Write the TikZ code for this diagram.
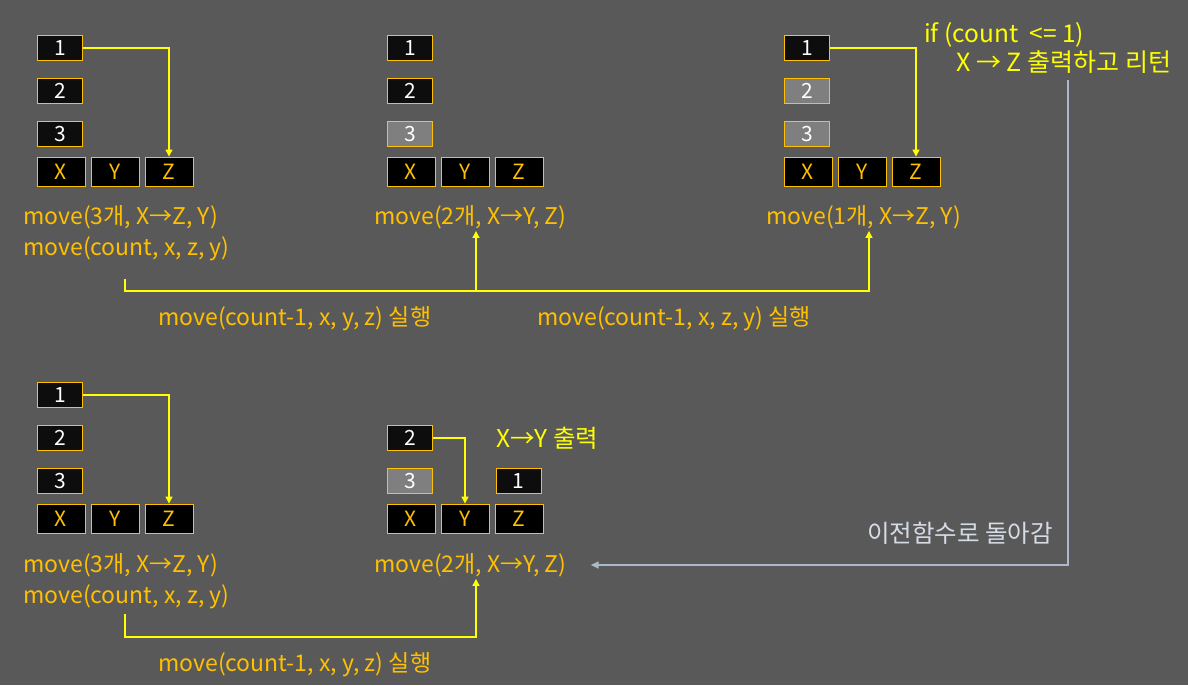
\documentclass[tikz,border=0pt]{standalone}
\usepackage{fontspec}
\setmainfont{Noto Sans CJK KR}
\usetikzlibrary{arrows.meta,positioning,calc}
\definecolor{bg}{HTML}{595959}
\definecolor{gold}{HTML}{FFC000}
\definecolor{hot}{HTML}{FFFF00}
\definecolor{discblack}{HTML}{0D0D0D}
\definecolor{discgray}{HTML}{7F7F7F}
\definecolor{backline}{HTML}{ADB9CA}
\definecolor{backtext}{HTML}{D6DCE5}

\begin{document}
\begin{tikzpicture}[x=1pt,y=-1pt,
  d/.style={draw=gold,fill=discblack,text=white,line width=0.9pt,minimum width=45pt,minimum height=25pt,inner sep=0pt,font=\fontsize{21}{24}\selectfont},
  dg/.style={d,fill=discgray},
  p/.style={draw=gold,fill=black,text=gold,line width=0.9pt,minimum width=48pt,minimum height=29pt,inner sep=0pt,font=\fontsize{21}{24}\selectfont},
  t/.style={text=gold,anchor=west,inner sep=2pt,font=\fontsize{23}{26}\selectfont},
  h/.style={t,text=hot,font=\fontsize{24.5}{28}\selectfont},
  a/.style={draw=hot,line width=1.2pt,-{Triangle[length=7pt,width=7pt]}},
  back/.style={draw=backline,line width=1.4pt,-{Triangle[length=8pt,width=7pt]}}]
\fill[bg] (0,0) rectangle (1188,685);
% move(3) : 1 -> Z
\node[d] (a1) at (60,48) {1};
\node[d] (a2) at (60,91) {2};
\node[d] (a3) at (60,134) {3};
\node[p] (aX) at (61,171.5) {X};
\node[p] (aY) at (115,171.5) {Y};
\node[p] (aZ) at (169,171.5) {Z};
\node[t] (acall) at (21,217) {move(3개, X→Z, Y)};
\node[t] (aarg) at (21,249) {move(count, x, z, y)};
% move(2)
\node[d] (b1) at (410,48) {1};
\node[d] (b2) at (410,91) {2};
\node[dg] (b3) at (410,134) {3};
\node[p] (bX) at (411,171.5) {X};
\node[p] (bY) at (465,171.5) {Y};
\node[p] (bZ) at (519,171.5) {Z};
\node[t] (bcall) at (372,217) {move(2개, X→Y, Z)};
% move(1)
\node[d] (c1) at (807,48) {1};
\node[dg] (c2) at (807,91) {2};
\node[dg] (c3) at (807,134) {3};
\node[p] (cX) at (808,171.5) {X};
\node[p] (cY) at (862,171.5) {Y};
\node[p] (cZ) at (916,171.5) {Z};
\node[t] (ccall) at (764,217) {move(1개, X→Z, Y)};
\node[h] (cif) at (922,35) {if (count~ <= 1)};
\node[h,font=\fontsize{25}{28}\selectfont] (cret) at (954,62) {X → Z 출력하고 리턴};
% back in move(3)
\node[d] (d1) at (60,395) {1};
\node[d] (d2) at (60,438) {2};
\node[d] (d3) at (60,481) {3};
\node[p] (dX) at (61,518.5) {X};
\node[p] (dY) at (115,518.5) {Y};
\node[p] (dZ) at (169,518.5) {Z};
\node[t] (dcall) at (21,565) {move(3개, X→Z, Y)};
\node[t] (darg) at (21,597) {move(count, x, z, y)};
% back in move(2)
\node[d] (e2) at (410,438) {2};
\node[dg] (e3) at (410,481) {3};
\node[d] (e1) at (518.5,481) {1};
\node[p] (eX) at (411,518.5) {X};
\node[p] (eY) at (465,518.5) {Y};
\node[p] (eZ) at (519,518.5) {Z};
\node[t] (ecall) at (372,565) {move(2개, X→Y, Z)};
\node[h] (eout) at (494,438) {X→Y 출력};
\node[t,text=backtext,anchor=east,font=\fontsize{24.5}{28}\selectfont] (eback) at (1055,533) {이전함수로 돌아감};
% recursive calls
\node[t] (l1) at (156,319) {move(count-1, x, y, z) 실행};
\node[t] (l2) at (535,319) {move(count-1, x, z, y) 실행};
\node[t] (l3) at (156,665) {move(count-1, x, y, z) 실행};
\coordinate (s1) at (125,279);
\coordinate (j1) at (476,291);
\coordinate (j2) at (869,291);
\coordinate (s2) at (125,614);
\coordinate (j3) at (476,637);
\coordinate (g1) at (1068,80);
\draw[a] (a1) -| (aZ);
\draw[a] (c1) -| (cZ);
\draw[a] (d1) -| (dZ);
\draw[a] (e2) -| (eY);
\draw[a] (s1) |- (j1) -- (j1 |- bcall.south);
\draw[a] (j1) -- (j2) -- (j2 |- ccall.south);
\draw[a] (s2) |- (j3) -- (j3 |- ecall.south);
\draw[back] (g1) |- ([xshift=22pt]ecall.east);
\end{tikzpicture}
\end{document}
